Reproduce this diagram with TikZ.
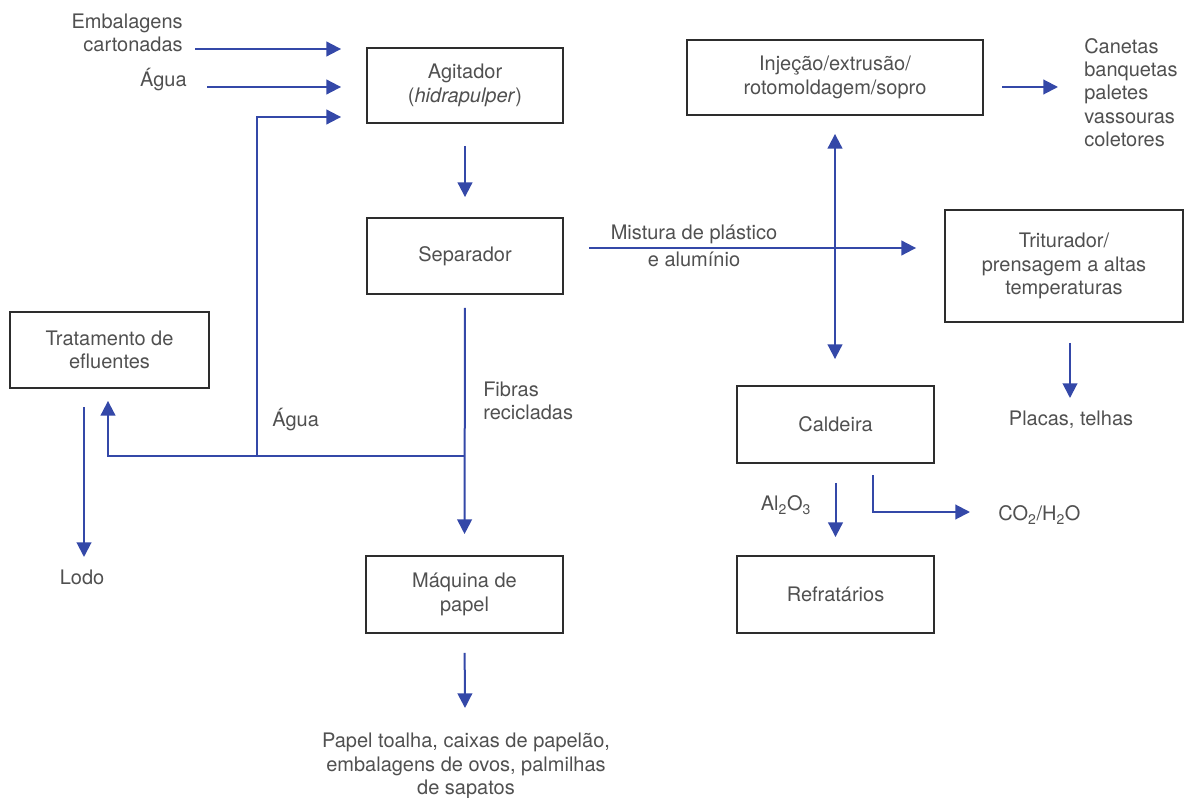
\documentclass[tikz,border=0pt]{standalone}
\usepackage{fontspec}
\setmainfont{TeX Gyre Heros}
\usetikzlibrary{arrows.meta}
\definecolor{arrblue}{RGB}{52,72,168}
\definecolor{txtgray}{RGB}{80,80,80}
\definecolor{boxgray}{RGB}{45,45,45}
\begin{document}
\begin{tikzpicture}[x=0.75pt,y=-0.75pt,
  font=\fontsize{15}{17.5}\selectfont, text=txtgray,
  procbox/.style={draw=boxgray,line width=1.4pt,align=center,inner sep=0pt},
  arr/.style={draw=arrblue,line width=1.5pt,-{Triangle[length=11pt,width=11pt]}},
  darr/.style={draw=arrblue,line width=1.5pt,{Triangle[length=11pt,width=11pt]}-{Triangle[length=11pt,width=11pt]}},
  ln/.style={draw=arrblue,line width=1.5pt},
  lbl/.style={inner sep=0pt}]
\useasboundingbox (0,0) rectangle (1188,798);

% boxes
\node[procbox,minimum width=147pt,minimum height=56.25pt] (agit) at (465,85.5) {Agitador\\(\textit{hidrapulper})};
\node[procbox,minimum width=147pt,minimum height=57pt] (sep) at (465,256) {Separador};
\node[procbox,minimum width=149.25pt,minimum height=57pt] (trat) at (109.5,350) {Tratamento de\\efluentes};
\node[procbox,minimum width=147.75pt,minimum height=57.75pt] (maq) at (464.5,594.5) {Máquina de\\papel};
\node[procbox,minimum width=222pt,minimum height=56.25pt] (inj) at (835,77.5) {Injeção/extrusão/\\rotomoldagem/sopro};
\node[procbox,minimum width=178.5pt,minimum height=84pt] (trit) at (1064,266) {Triturador/\\prensagem a altas\\temperaturas};
\node[procbox,minimum width=147.75pt,minimum height=57.75pt] (cald) at (835.5,424.5) {Caldeira};
\node[procbox,minimum width=147.75pt,minimum height=57.75pt] (refr) at (835.5,594.5) {Refratários};

% labels
\node[lbl,anchor=east,align=right] (emb) at (183,33) {Embalagens\\cartonadas};
\node[lbl,anchor=east] (agua1) at (187,79.5) {Água};
\node[lbl,anchor=west,align=left] (fibras) at (483,401) {Fibras\\recicladas};
\node[lbl,anchor=west] (agua2) at (272,419.5) {Água};
\node[lbl] (lodo) at (82,577.75) {Lodo};
\node[lbl,align=center] (prod) at (466,766) {Papel toalha, caixas de papelão,\\embalagens de ovos, palmilhas\\de sapatos};
\node[lbl,align=center] (mist) at (694,246) {Mistura de plástico\\[3pt]e alumínio};
\node[lbl,anchor=west,align=left] (canetas) at (1084,92.5) {Canetas\\banquetas\\paletes\\vassouras\\coletores};
\node[lbl] (placas) at (1071,420) {Placas, telhas};
\node[lbl] (al) at (786,505) {Al\textsubscript{2}O\textsubscript{3}};
\node[lbl,anchor=west] (co2) at (998,515) {CO\textsubscript{2}/H\textsubscript{2}O};

% coordinates of free ends
\coordinate (embS) at (195,49);
\coordinate (aguaS) at (207,87);
\coordinate (ret) at (257,117);
\coordinate (jW) at (257,456);
\coordinate (jF) at (465,456);
\coordinate (tc) at (108,456);
\coordinate (lodoT) at (84,407);
\coordinate (lodoE) at (84,557);
\coordinate (prodE) at (465,708);
\coordinate (mS) at (589,248);
\coordinate (canS) at (1002,87);
\coordinate (canE) at (1058,87);
\coordinate (plE) at (1070,398);
\coordinate (coS) at (873,475);
\coordinate (coK) at (873,512);
\coordinate (coE) at (970,512);

% connectors
\draw[arr,shorten >=18.75pt] (embS) -- (embS -| agit.west);
\draw[arr,shorten >=18.75pt] (aguaS) -- (aguaS -| agit.west);
\draw[arr,shorten >=18.75pt] (jW) -- (ret) -- (ret -| agit.west);
\draw[arr,shorten <=16.5pt,shorten >=15pt] (agit.south) -- (sep.north);
\draw[arr,shorten <=9.75pt,shorten >=15.75pt] (sep.south) -- (maq.north);
\draw[arr,shorten >=9pt] (jF) -- (tc) -- (tc |- trat.south);
\draw[arr] (lodoT) -- (lodoE);
\draw[arr,shorten <=14.25pt] (maq.south) -- (prodE);
\draw[arr,shorten >=21pt] (mS) -- (mS -| trit.west);
\draw[darr,shorten <=13.5pt,shorten >=19.5pt] (inj.south) -- (inj.south |- cald.north);
\draw[arr] (canS) -- (canE);
\draw[arr,shorten <=15pt] (trit.south -| plE) -- (plE);
\draw[arr,shorten <=14.25pt,shorten >=13.5pt] (cald.south) -- (refr.north);
\draw[arr] (coS) -- (coK) -- (coE);
\end{tikzpicture}
\end{document}
